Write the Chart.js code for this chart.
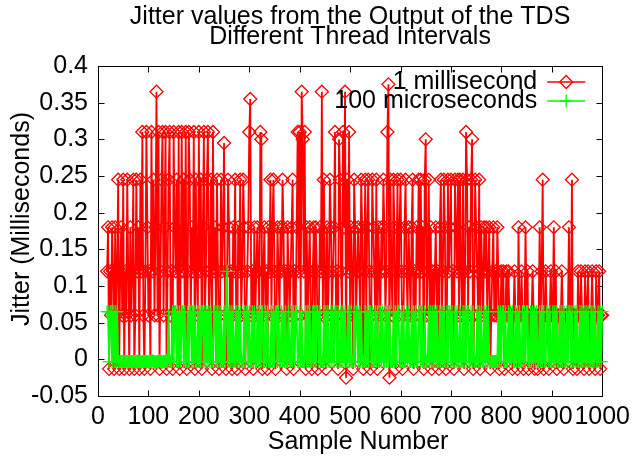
<!DOCTYPE html>
<html>
<head>
<meta charset="utf-8">
<script src="https://cdn.jsdelivr.net/npm/chart.js@4.4.1/dist/chart.umd.min.js"></script>
<style>
  html, body { margin: 0; padding: 0; background: #fff; }
</style>
</head>
<body>
<canvas id="chart" width="636" height="459"></canvas>
<script>
// sample numbers: every 2nd sample, 18 .. 1000
const firstSample = 18;
const sampleStep = 2;

// jitter (ms), 1 millisecond thread interval
const oneMs = [
  .12, .18, -.013, .12, .06, .18, .12, -.013, .18, .06, .12, .245, -.013, .12, .18, .06, .245, -.013, .12, .06, .245, .12, -.013, .18, .06,
  .12, .245, -.013, .06, .245, .12, .18, -.013, .245, .12, .31, .06, -.013, .12, .31, .18, .06, .12, -.013, .31, .12, .245, .06, .18, .365,
  .06, .31, -.013, .12, .245, .31, .06, .18, .31, -.013, .12, .245, .31, .06, .12, -.013, .31, .18, .12, .245, .06, .31, -.013, .12, .31,
  .12, .245, .06, .31, -.013, .12, .31, .245, .06, .18, .12, .31, -.013, .245, .12, .06, .31, .12, .245, -.013, .18, .31, .06, .12, .245,
  .31, .06, .12, .245, -.013, .31, .12, .18, .06, .245, .12, -.013, .06, .245, .12, .18, .295, .06, -.013, .12, .245, .18, .06, .12, -.013,
  .18, .12, .245, .06, -.013, .18, .12, .245, .06, .12, .245, .18, -.013, .06, .12, .18, .31, .355, .06, .12, -.013, .18, .06, .12, .18,
  .12, .06, .31, .3, -.013, .12, .18, .06, .12, -.013, .18, .12, .245, .06, .18, .245, .12, -.013, .06, .18, .12, .06, .18, .12, .245,
  .18, .06, .12, -.013, .18, .12, .06, .12, .18, .245, -.013, .12, .06, .18, .31, .12, .31, .06, .365, .3, .12, .31, -.013, .18, .06,
  .12, .18, .06, -.013, .12, .18, .06, .18, .12, -.013, .06, .18, .12, .365, .06, .245, .12, -.013, .18, .06, .12, .245, .18, .06, .12,
  .18, .31, .06, .12, -.013, .3, .245, .12, .06, .31, .18, .365, -.025, .245, .12, .31, .06, .18, .12, -.013, .245, .18, .06, .12, .18,
  .12, .06, .245, .18, -.013, .12, .245, .06, .18, .245, .12, -.013, .06, .245, .18, .12, .06, .245, -.013, .18, .12, .06, .18, .12, .245,
  .18, .06, .12, .31, .375, -.025, .245, .12, .06, .245, .18, -.013, .12, .245, .06, .18, .245, .12, -.013, .06, .18, .245, .12, .06, .18,
  .12, .06, .18, .245, -.013, .12, .06, .18, .12, .245, .06, .245, .12, .18, -.013, .245, .3, .06, .12, .245, .06, .18, -.013, .12, .06,
  .12, .18, .06, .12, -.013, .18, .245, .06, .12, .245, .18, -.013, .06, .245, .12, .18, .245, .06, .12, -.013, .245, .18, .12, .245, .06,
  .245, .12, .06, .245, -.013, .12, .31, .245, .06, .18, .12, .245, .3, -.013, .06, .245, .18, .12, .06, .245, -.013, .18, .12, .06, .18,
  .12, .18, .06, .12, .18, -.013, .06, .12, .18, .06, .12, .06, .18, .12, -.013, .06, .12, .06, .12, -.013, .06, .12, .06, .12, .06,
  .06, .06, -.013, .06, .12, .06, .06, -.013, .18, .06, .06, .12, .06, -.013, .06, .18, .06, .12, -.013, .06, .06, .06, .12, .06, -.013,
  .06, .06, -.013, .06, .18, .06, .12, .245, -.013, .06, .12, .06, .06, -.013, .06, .12, .06, .06, .18, .06, .12, -.013, .06, .06, .06,
  .06, .12, .06, -.013, .06, .06, .06, .06, .18, .06, .06, .245, -.013, .06, .06, .06, -.013, .12, .06, .06, .12, .06, .06, -.013, .12,
  .06, .06, .12, -.013, .06, .06, .12, .06, .06, -.013, .12, .06, .06, .12, -.013, .06, .06
];

// jitter (ms), 100 microseconds thread interval
const hundredUs = [
  .065, .065, -.003, .065, .065, -.003, .065, -.003, .065, -.003, .065, -.003, -.003, -.003, -.003, -.003, -.003, -.003, -.003, -.003, -.003, -.003, -.003, -.003, -.003,
  -.003, -.002, -.003, -.004, -.003, -.003, -.002, -.003, -.003, -.004, -.003, -.003, -.003, -.002, -.003, -.003, -.004, -.003, -.003, -.003, -.002, -.003, -.003, -.004, -.003,
  -.003, -.003, -.002, -.003, -.003, -.004, -.003, -.003, -.003, -.002, -.003, .06, -.003, -.003, -.003, .065, -.003, .065, .065, -.003, .065, -.003, .065, -.003, .065,
  .065, -.003, .065, -.003, -.003, .065, -.003, .065, .065, -.003, .065, -.003, .065, -.003, -.003, .065, -.003, .065, -.003, .065, .065, -.003, .065, -.003, .065,
  -.003, .065, -.003, .065, -.003, -.003, .065, .065, -.003, .065, -.003, .065, -.003, .065, -.003, -.003, .065, -.003, .065, .12, -.003, .065, -.003, .065, -.003,
  .065, -.003, -.003, .065, -.003, .065, -.003, .065, -.003, -.003, -.003, .065, -.003, .065, .065, -.003, .065, -.003, -.003, .065, -.003, .065, -.003, -.003, .065,
  -.003, .065, -.003, .065, .065, -.003, -.003, .065, -.003, .065, -.003, -.003, -.003, .065, -.003, .065, -.003, .065, .065, -.003, .065, -.003, -.003, .065, -.003,
  .065, -.003, .065, -.003, -.003, .065, -.003, -.003, .065, -.003, .065, -.003, .065, .065, -.003, -.003, .065, -.003, .065, -.003, -.003, -.003, .065, -.003, .065,
  -.003, .065, -.003, -.003, .065, -.003, .065, -.003, .065, .065, -.003, .065, -.003, -.003, -.003, .065, -.003, .065, -.003, .065, -.003, -.003, .065, -.003, .065,
  -.003, .065, .065, -.003, .065, -.003, -.003, .065, -.003, .065, -.003, .065, -.003, -.003, .065, -.003, .065, -.003, -.003, -.003, .065, -.003, .065, .065, -.003,
  .065, -.003, .065, -.003, -.003, -.003, .065, -.003, .065, -.003, .065, .065, -.003, .065, -.003, -.003, .065, -.003, .065, -.003, -.003, .065, -.003, .065, -.003,
  -.003, .065, -.003, .065, -.003, .065, -.003, -.003, -.003, .065, -.003, .065, -.003, .065, .065, -.003, -.003, .065, -.003, .065, -.003, -.003, .065, -.003, .065,
  -.003, -.003, .065, -.003, .065, -.003, .065, -.003, -.003, .065, .065, -.003, .065, -.003, -.003, .065, -.003, -.003, -.003, .065, -.003, .065, -.003, .065, -.003,
  .065, -.003, .065, -.003, -.003, .065, -.003, .065, -.003, .065, -.003, -.003, .065, -.003, .065, .065, -.003, .065, -.003, -.003, .065, -.003, .065, -.003, -.003,
  .065, -.003, -.003, .065, -.003, .065, -.003, .065, .065, -.003, -.003, .065, -.003, .065, -.003, -.003, -.003, .065, -.003, .065, -.003, .065, -.003, -.003, .065,
  -.003, .065, -.003, .065, -.003, -.003, -.003, -.003, -.003, -.003, -.003, -.003, -.003, .065, -.003, .065, -.003, .065, .065, -.003, .065, -.003, -.003, .065, -.003,
  .065, -.003, .065, -.003, -.003, .065, -.003, .065, -.003, .065, -.003, -.003, .065, -.003, .065, -.003, .065, .065, -.003, -.003, .065, -.003, .065, -.003, .065,
  -.003, .065, -.003, -.003, .065, -.003, .065, -.003, .065, -.003, -.003, .065, .065, -.003, .065, -.003, -.003, .065, -.003, .065, -.003, .065, -.003, -.003, .065,
  -.003, .065, -.003, .065, -.003, -.003, .065, -.003, .065, .065, -.003, .065, -.003, -.003, .065, -.003, .065, -.003, -.003, .065, -.003, .065, -.003, .065, -.003,
  .065, -.003, .065, -.003, -.003, .065, -.003, .065, -.003, .065, -.003, -.003, .065, -.003, .065, -.003, .065
];

const xTicks = [0, 100, 200, 300, 400, 500, 600, 700, 800, 900, 1000];
const yTicks = [-0.05, 0, 0.05, 0.1, 0.15, 0.2, 0.25, 0.3, 0.35, 0.4];

const titleLines = ['Jitter values from the Output of the TDS', 'Different Thread Intervals'];
const xTitle = 'Sample Number';
const yTitle = 'Jitter (Milliseconds)';

const FONT = 'Liberation Sans, Arial, Helvetica, sans-serif';

const toPoints = vals => vals.map((v, i) => ({ x: firstSample + i * sampleStep, y: v }));

// gnuplot style frame with inward ticks on all four sides
const framePlugin = {
  id: 'frame',
  beforeDatasetsDraw(chart) {
    const { ctx, chartArea: a, scales } = chart;
    const L = Math.round(a.left) + 0.5, R = Math.round(a.right) + 0.5;
    const T = Math.round(a.top) + 0.5, B = Math.round(a.bottom) + 0.5;
    ctx.save();
    ctx.strokeStyle = '#000';
    ctx.lineWidth = 1;
    ctx.strokeRect(L, T, R - L, B - T);
    ctx.beginPath();
    xTicks.forEach(v => {
      const px = Math.round(scales.x.getPixelForValue(v)) + 0.5;
      ctx.moveTo(px, B); ctx.lineTo(px, B - 6);
      ctx.moveTo(px, T); ctx.lineTo(px, T + 6);
    });
    yTicks.forEach(v => {
      const py = Math.round(scales.y.getPixelForValue(v)) + 0.5;
      ctx.moveTo(L, py); ctx.lineTo(L + 6, py);
      ctx.moveTo(R, py); ctx.lineTo(R - 6, py);
    });
    ctx.stroke();
    ctx.restore();
  }
};

// titles placed the way gnuplot puts them
const textPlugin = {
  id: 'texts',
  afterDraw(chart) {
    const { ctx, chartArea: a } = chart;
    const cx = (a.left + a.right) / 2;
    ctx.save();
    ctx.font = '25px ' + FONT;
    ctx.fillStyle = '#000';
    ctx.textAlign = 'center';
    ctx.textBaseline = 'middle';
    titleLines.forEach((t, i) => ctx.fillText(t, cx, 17 + i * 20));
    ctx.fillText(xTitle, cx + 8, a.bottom + 46);
    ctx.translate(22, (a.top + a.bottom) / 2 - 12);
    ctx.rotate(-Math.PI / 2);
    ctx.fillText(yTitle, 0, 0);
    ctx.restore();
  }
};

// key in the top right corner, text left of the sample line
const keyPlugin = {
  id: 'key',
  afterDatasetsDraw(chart) {
    const { ctx, chartArea: a } = chart;
    const textRight = a.right - 65, x0 = a.right - 55, x1 = a.right - 17, xm = a.right - 36;
    ctx.save();
    chart.data.datasets.forEach((ds, i) => {
      const y = a.top + 16 + i * 19;
      ctx.font = '25px ' + FONT;
      ctx.fillStyle = '#000';
      ctx.textAlign = 'right';
      ctx.textBaseline = 'middle';
      ctx.fillText(ds.label, textRight, y);
      ctx.strokeStyle = ds.borderColor;
      ctx.lineWidth = 1.5;
      ctx.beginPath();
      ctx.moveTo(x0, y); ctx.lineTo(x1, y);
      ctx.stroke();
      ctx.fillStyle = 'rgba(0,0,0,0)';
      ctx.lineWidth = ds.pointBorderWidth;
      ctx.beginPath();
      Chart.helpers.drawPoint(ctx, { pointStyle: ds.pointStyle, radius: ds.pointRadius, borderWidth: ds.pointBorderWidth, rotation: 0 }, xm, y);
    });
    ctx.restore();
  }
};

new Chart(document.getElementById('chart'), {
  type: 'line',
  data: {
    datasets: [
      {
        label: '1 millisecond',
        data: toPoints(oneMs),
        borderColor: '#ff0000',
        backgroundColor: 'rgba(0,0,0,0)',
        borderWidth: 1.8,
        pointStyle: 'rectRot',
        pointRadius: 6.5,
        pointBorderWidth: 1.3,
        pointBorderColor: '#ff0000',
        pointBackgroundColor: 'rgba(0,0,0,0)',
        fill: false,
        tension: 0,
        clip: false,
        order: 2
      },
      {
        label: '100 microseconds',
        data: toPoints(hundredUs),
        borderColor: '#00ff00',
        backgroundColor: 'rgba(0,0,0,0)',
        borderWidth: 1.8,
        pointStyle: 'cross',
        pointRadius: 6.5,
        pointBorderWidth: 1.3,
        pointBorderColor: '#00ff00',
        fill: false,
        tension: 0,
        clip: false,
        order: 1
      }
    ]
  },
  options: {
    responsive: false,
    animation: false,
    events: [],
    layout: { padding: { left: 0, right: 29, top: 66, bottom: 0 } },
    plugins: {
      legend: { display: false },
      tooltip: { enabled: false },
      title: { display: false }
    },
    scales: {
      x: {
        type: 'linear',
        min: 0,
        max: 1000,
        afterBuildTicks: s => { s.ticks = xTicks.map(v => ({ value: v })); },
        afterFit: s => { s.height = 63; },
        grid: { display: false, drawTicks: false },
        border: { display: false },
        ticks: { color: '#000', padding: 6, maxRotation: 0, autoSkip: false, font: { family: FONT, size: 25 }, callback: v => String(v) }
      },
      y: {
        min: -0.05,
        max: 0.4,
        afterBuildTicks: s => { s.ticks = yTicks.map(v => ({ value: v })); },
        afterFit: s => { s.width = 98; },
        grid: { display: false, drawTicks: false },
        border: { display: false },
        ticks: { color: '#000', padding: 10, autoSkip: false, font: { family: FONT, size: 25 }, callback: v => String(+v.toFixed(2)) }
      }
    }
  },
  plugins: [framePlugin, keyPlugin, textPlugin]
});
</script>
</body>
</html>
